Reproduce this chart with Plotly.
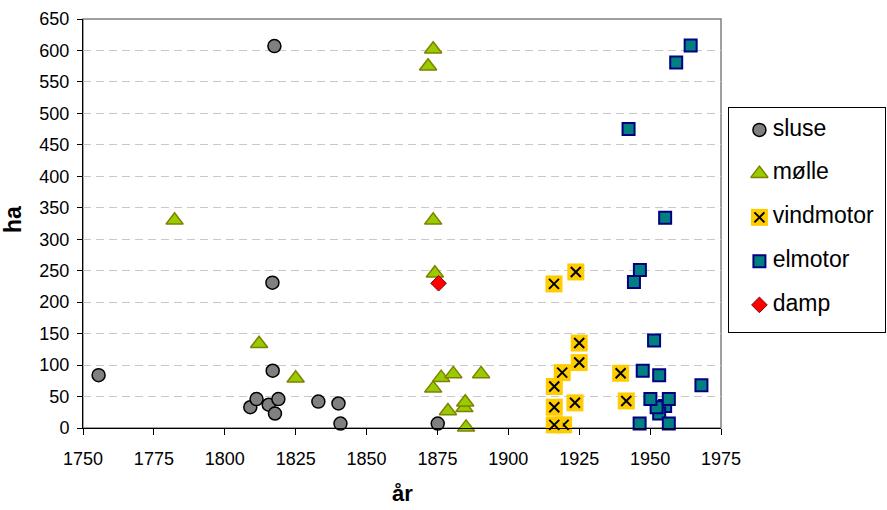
import plotly.graph_objects as go

# ---- data ----
sluse_x = [1755.5, 1817.5, 1816.8, 1816.9, 1809.0, 1811.2, 1815.5, 1818.9, 1817.7, 1833.0, 1840.1, 1840.8, 1875.1]
sluse_y = [84, 607, 231, 91, 33, 46, 37, 46, 23, 42, 39, 7, 7]

molle_x = [1782.3, 1812.1, 1825.0, 1873.5, 1871.7, 1873.5, 1874.1, 1873.5, 1876.3, 1880.6, 1890.4, 1878.7, 1884.5, 1884.8, 1885.1]
molle_y = [330, 134, 79, 602, 575, 330, 246, 63, 80, 86, 86, 27, 32, 41, 1]

vind_x = [1916.1, 1923.8, 1925.0, 1925.0, 1919.0, 1916.2, 1916.2, 1923.5, 1919.5, 1916.2, 1939.6, 1941.6]
vind_y = [229, 248, 135, 104, 88, 66, 33, 40, 5, 5, 87, 43]

elm_x = [1955.3, 1964.3, 1959.2, 1942.4, 1955.3, 1946.4, 1944.3, 1951.4, 1947.4, 1953.2, 1968.1, 1953.2, 1952.3, 1950.1, 1956.6, 1946.3, 1956.6]
elm_y = [35, 608, 581, 475, 334, 251, 232, 139, 91, 84, 68, 23, 33, 46, 46, 7, 7]

damp_x = [1875.4]
damp_y = [230]

legend_names = ["sluse", "mølle", "vindmotor", "elmotor", "damp"]

x_title = "år"
y_title = "ha"

FONT = "Liberation Sans, Arial, sans-serif"
W, H = 887, 510

# ---- styles ----
st_sluse = dict(symbol="circle", size=13, color="#808080", line=dict(color="black", width=1.5))
st_molle = dict(symbol="triangle-up", size=15, color="#99CC00", line=dict(color="#808000", width=1.5))
st_vind = dict(symbol="square", size=17, color="#FFCC00", line=dict(width=0))
st_vindx = dict(symbol="x-thin", size=10, color="black", line=dict(color="black", width=2))
st_elm = dict(symbol="square", size=12, color="#008080", line=dict(color="#000080", width=2))
st_damp = dict(symbol="diamond", size=12, color="#FF0000", line=dict(color="#800000", width=1))

fig = go.Figure()

def add(x, y, marker, xa="x", ya="y"):
    fig.add_trace(go.Scatter(x=x, y=y, mode="markers", marker=marker, showlegend=False,
                             cliponaxis=False, hoverinfo="skip", xaxis=xa, yaxis=ya))

add(sluse_x, sluse_y, st_sluse)
add(molle_x, molle_y, st_molle)
# vindmotor: yellow square with black cross
for vx, vy in zip(vind_x, vind_y):
    add([vx], [vy], st_vind)
    add([vx], [vy], st_vindx)
add(elm_x, elm_y, st_elm)
add(damp_x, damp_y, st_damp)

# ---- custom legend (own small axes inside the legend box) ----
leg_styles = [[st_sluse], [st_molle], [st_vind, st_vindx], [st_elm], [st_damp]]
for i, (name, sts) in enumerate(zip(legend_names, leg_styles)):
    for s in sts:
        add([0.195], [i], s, "x2", "y2")
    fig.add_trace(go.Scatter(x=[0.28], y=[i], mode="text", text=[name], textposition="middle right",
                             textfont=dict(family=FONT, size=23, color="black"),
                             showlegend=False, hoverinfo="skip", cliponaxis=False,
                             xaxis="x2", yaxis="y2"))

fig.update_layout(
    template="none",
    width=W, height=H,
    margin=dict(l=0, r=0, t=0, b=0, pad=0, autoexpand=False),
    paper_bgcolor="white", plot_bgcolor="white",
    showlegend=False,
    font=dict(family=FONT, size=18, color="black"),
    xaxis=dict(domain=[83 / W, 721 / W], range=[1750, 1975], tick0=1750, dtick=25,
               showline=True, linecolor="black", linewidth=1, ticks="outside", ticklen=6,
               tickcolor="black", showgrid=False, zeroline=False, automargin=False,
               tickfont=dict(family=FONT, size=18, color="black"), ticklabelstandoff=8,
               anchor="y", fixedrange=True),
    yaxis=dict(domain=[(H - 428) / H, (H - 19) / H], range=[0, 650], tick0=0, dtick=50,
               showline=True, linecolor="black", linewidth=1, ticks="outside", ticklen=5,
               tickcolor="black", showgrid=True, gridcolor="#C8C8C8", griddash="8px,5px",
               gridwidth=1, zeroline=False, automargin=False,
               tickfont=dict(family=FONT, size=18, color="black"), ticklabelstandoff=4,
               anchor="x", fixedrange=True),
    xaxis2=dict(domain=[729 / W, 885 / W], range=[0, 1], showticklabels=False, showgrid=False,
                zeroline=False, showline=True, mirror=True, linecolor="black", linewidth=1,
                ticks="", automargin=False, anchor="y2", fixedrange=True),
    yaxis2=dict(domain=[(H - 332) / H, (H - 108) / H], range=[4.62, -0.5], showticklabels=False,
                showgrid=False, zeroline=False, showline=True, mirror=True, linecolor="black",
                ticks="", linewidth=1, automargin=False, anchor="x2", fixedrange=True),
    shapes=[dict(type="rect", xref="x domain", yref="y domain", x0=0, x1=1, y0=0, y1=1,
                 line=dict(color="#808080", width=1.5), layer="below")],
    annotations=[
        dict(text=f"<b>{x_title}</b>", xref="paper", yref="paper", x=402 / W, y=1 - 493 / H,
             showarrow=False, font=dict(family=FONT, size=22, color="black"),
             xanchor="center", yanchor="middle"),
        dict(text=f"<b>{y_title}</b>", xref="paper", yref="paper", x=13 / W, y=1 - 220 / H,
             showarrow=False, textangle=-90, font=dict(family=FONT, size=23, color="black"),
             xanchor="center", yanchor="middle"),
    ],
)

fig.write_html("out.html",
               config={"displayModeBar": False, "staticPlot": True},
               post_script="document.body.style.margin='0';document.body.style.overflow='hidden';")
